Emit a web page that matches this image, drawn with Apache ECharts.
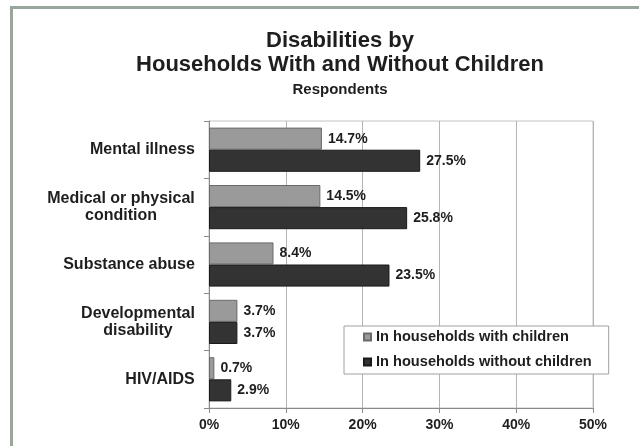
<!DOCTYPE html>
<html>
<head>
<meta charset="utf-8">
<script src="https://cdn.jsdelivr.net/npm/echarts@6/dist/echarts.min.js"></script>
<style>
html,body{margin:0;padding:0;background:#fff;}
#chart{width:639px;height:446px;}
</style>
</head>
<body>
<div id="chart"></div>
<script>
var categories = ['Mental illness', 'Medical or physical\ncondition', 'Substance abuse', 'Developmental\ndisability', 'HIV/AIDS'];
var withChildren = [14.7, 14.5, 8.4, 3.7, 0.7];
var withoutChildren = [27.5, 25.8, 23.5, 3.7, 2.9];
var seriesNames = ['In households with children', 'In households without children'];
var xMin = 0, xMax = 50, xStep = 10;

var FONT = '"Liberation Sans", Arial, sans-serif';
var TXT = '#1e1e1e';
var CAT_SIZE = 16;

// per-category rich styles so multi-line labels are centred within their block
var ctx = document.createElement('canvas').getContext('2d');
ctx.font = 'bold ' + CAT_SIZE + 'px "Liberation Sans", Arial, sans-serif';
var rich = {};
categories.forEach(function (c, i) {
  var w = 0;
  c.split('\n').forEach(function (l) { w = Math.max(w, ctx.measureText(l).width); });
  rich['w' + i] = {width: Math.ceil(w), align: 'center', fontSize: CAT_SIZE, fontWeight: 'bold',
                   fontFamily: FONT, color: TXT, lineHeight: 17};
});

var chart = echarts.init(document.getElementById('chart'), null, {renderer: 'canvas'});
var labelStyle = {
  show: true, position: 'right', distance: 6,
  fontSize: 14, fontWeight: 'bold', fontFamily: FONT, color: TXT,
  formatter: function (p) { return p.value.toFixed(1) + '%'; }
};
chart.setOption({
  animation: false,
  backgroundColor: '#fff',
  graphic: [
    {type: 'rect', shape: {x: 10, y: 6, width: 3, height: 440}, style: {fill: '#98a69c'}, silent: true},
    {type: 'rect', shape: {x: 10, y: 6, width: 629, height: 3}, style: {fill: '#98a69c'}, silent: true}
  ],
  title: {
    text: 'Disabilities by\nHouseholds With and Without Children',
    subtext: 'Respondents',
    left: 340, top: 29, textAlign: 'center',
    padding: 0,
    itemGap: 4,
    textStyle: {fontSize: 22, fontWeight: 'bold', fontFamily: FONT, color: TXT, lineHeight: 24},
    subtextStyle: {fontSize: 15, fontWeight: 'bold', fontFamily: FONT, color: TXT, lineHeight: 17}
  },
  grid: {left: 209, right: 46, top: 121, bottom: 38, show: true, borderColor: '#c4c4c4', borderWidth: 1, containLabel: false},
  legend: {
    orient: 'vertical', left: 344, top: 326,
    padding: [3, 17, 4, 19],
    itemWidth: 7, itemHeight: 7, itemGap: 9,
    backgroundColor: '#fff', borderColor: '#a0a0a0', borderWidth: 1,
    icon: 'rect',
    textStyle: {fontSize: 14.6, fontWeight: 'bold', fontFamily: FONT, color: TXT, lineHeight: 16},
    data: seriesNames
  },
  xAxis: {
    type: 'value', min: xMin, max: xMax, interval: xStep,
    axisLine: {show: true, lineStyle: {color: '#8a8a8a'}},
    axisTick: {show: true, length: 5, lineStyle: {color: '#8a8a8a'}},
    splitLine: {show: true, lineStyle: {color: '#b4b4b4'}},
    axisLabel: {formatter: '{value}%', fontSize: 14, fontWeight: 'bold', fontFamily: FONT, color: TXT, margin: 10}
  },
  yAxis: {
    type: 'category', inverse: true, data: categories,
    axisLine: {show: true, lineStyle: {color: '#8a8a8a'}},
    axisTick: {show: true, length: 5, lineStyle: {color: '#8a8a8a'}},
    splitLine: {show: false},
    axisLabel: {
      margin: 14, fontSize: CAT_SIZE, fontWeight: 'bold', fontFamily: FONT, color: TXT, lineHeight: 17,
      formatter: function (v, i) {
        return v.split('\n').map(function (l) { return '{w' + i + '|' + l + '}'; }).join('\n');
      },
      rich: rich
    }
  },
  series: [
    {name: seriesNames[0], type: 'bar', data: withChildren, barGap: '0%', barCategoryGap: '23%',
     itemStyle: {color: '#9a9a9a', borderColor: '#6a6a6a', borderWidth: 1}, label: labelStyle},
    {name: seriesNames[1], type: 'bar', data: withoutChildren, barGap: '0%', barCategoryGap: '23%',
     itemStyle: {color: '#333333', borderColor: '#1a1a1a', borderWidth: 1}, label: labelStyle}
  ]
});
</script>
</body>
</html>
